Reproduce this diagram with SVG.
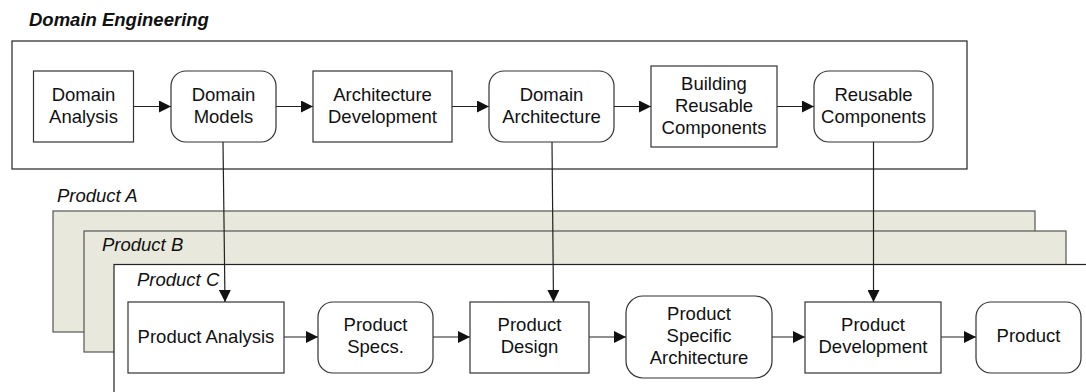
<svg xmlns="http://www.w3.org/2000/svg" width="1086" height="392" viewBox="0 0 1086 392">
  <style>
    text { font-family: "Liberation Sans", Arial, sans-serif; font-size: 18.5px; fill: #111; }
    .lbl { text-anchor: middle; }
    .title { font-weight: bold; font-style: italic; }
    .ptitle { font-style: italic; }
    .box { fill: #fff; stroke: #333; stroke-width: 1.2; }
    .panel { fill: #e8e8dc; stroke: #555; stroke-width: 1.2; }
    .frame { fill: #fff; stroke: #222; stroke-width: 1.2; }
    .conn { fill: none; stroke: #222; stroke-width: 1.2; marker-end: url(#arrow); }
  </style>
  <defs>
    <marker id="arrow" markerUnits="userSpaceOnUse" markerWidth="12" markerHeight="12" refX="12" refY="6" orient="auto">
      <path d="M0,0 L12,6 L0,12 z" fill="#111"/>
    </marker>
  </defs>

  <!-- Domain engineering frame -->
  <g id="domain-engineering">
    <text class="title" x="29" y="25.5">Domain Engineering</text>
    <rect class="frame" x="12" y="41" width="955" height="128"/>
  </g>

  <!-- Stacked product frames -->
  <g id="product-a">
    <rect class="panel" x="53" y="211" width="982" height="121"/>
    <text class="ptitle" x="57" y="201.5">Product A</text>
  </g>
  <g id="product-b">
    <rect class="panel" x="84" y="231" width="982" height="121"/>
    <text class="ptitle" x="102" y="251">Product B</text>
  </g>
  <g id="product-c">
    <rect class="frame" x="114" y="264.5" width="990" height="140"/>
    <text class="ptitle" x="137" y="285.5">Product C</text>
  </g>

  <!-- Connectors -->
  <g id="connectors">
    <line class="conn" x1="134" y1="106.5" x2="171" y2="106.5"/>
    <line class="conn" x1="276" y1="106.5" x2="313" y2="106.5"/>
    <line class="conn" x1="452" y1="106.5" x2="489" y2="106.5"/>
    <line class="conn" x1="614" y1="106.5" x2="651" y2="106.5"/>
    <line class="conn" x1="777" y1="106.5" x2="814" y2="106.5"/>

    <line class="conn" x1="223" y1="142" x2="225" y2="302"/>
    <line class="conn" x1="552" y1="142" x2="553.5" y2="302"/>
    <line class="conn" x1="873.5" y1="142" x2="873.5" y2="302"/>

    <line class="conn" x1="284" y1="337" x2="318" y2="337"/>
    <line class="conn" x1="433" y1="337" x2="470" y2="337"/>
    <line class="conn" x1="589" y1="337" x2="626" y2="337"/>
    <line class="conn" x1="772" y1="337" x2="805" y2="337"/>
    <line class="conn" x1="941" y1="337" x2="976" y2="337"/>
  </g>

  <!-- Domain engineering nodes -->
  <g id="domain-analysis">
    <rect class="box" x="33.5" y="71" width="100" height="71"/>
    <text class="lbl" x="83.5" y="101">Domain</text>
    <text class="lbl" x="83.5" y="123">Analysis</text>
  </g>
  <g id="domain-models">
    <rect class="box" x="171" y="71" width="105" height="71" rx="15"/>
    <text class="lbl" x="223.5" y="101">Domain</text>
    <text class="lbl" x="223.5" y="123">Models</text>
  </g>
  <g id="architecture-development">
    <rect class="box" x="313" y="71" width="139" height="71"/>
    <text class="lbl" x="382.5" y="101">Architecture</text>
    <text class="lbl" x="382.5" y="123">Development</text>
  </g>
  <g id="domain-architecture">
    <rect class="box" x="489" y="71" width="125" height="71" rx="15"/>
    <text class="lbl" x="551.5" y="101">Domain</text>
    <text class="lbl" x="551.5" y="123">Architecture</text>
  </g>
  <g id="building-reusable-components">
    <rect class="box" x="651" y="66" width="126" height="81"/>
    <text class="lbl" x="714" y="90">Building</text>
    <text class="lbl" x="714" y="112">Reusable</text>
    <text class="lbl" x="714" y="134">Components</text>
  </g>
  <g id="reusable-components">
    <rect class="box" x="814" y="71" width="119" height="71" rx="15"/>
    <text class="lbl" x="873.5" y="101">Reusable</text>
    <text class="lbl" x="873.5" y="123">Components</text>
  </g>

  <!-- Product nodes -->
  <g id="product-analysis">
    <rect class="box" x="128" y="302" width="156" height="71"/>
    <text class="lbl" x="206" y="342.5">Product Analysis</text>
  </g>
  <g id="product-specs">
    <rect class="box" x="318" y="302" width="115" height="71" rx="15"/>
    <text class="lbl" x="375.5" y="331">Product</text>
    <text class="lbl" x="375.5" y="353">Specs.</text>
  </g>
  <g id="product-design">
    <rect class="box" x="470" y="302" width="119" height="71"/>
    <text class="lbl" x="529.5" y="331">Product</text>
    <text class="lbl" x="529.5" y="353">Design</text>
  </g>
  <g id="product-specific-architecture">
    <rect class="box" x="626" y="296" width="146" height="82" rx="17"/>
    <text class="lbl" x="699" y="320">Product</text>
    <text class="lbl" x="699" y="342">Specific</text>
    <text class="lbl" x="699" y="364">Architecture</text>
  </g>
  <g id="product-development">
    <rect class="box" x="805" y="302" width="136" height="71"/>
    <text class="lbl" x="873" y="331">Product</text>
    <text class="lbl" x="873" y="353">Development</text>
  </g>
  <g id="product">
    <rect class="box" x="976" y="302" width="105" height="71" rx="15"/>
    <text class="lbl" x="1028.5" y="342">Product</text>
  </g>
</svg>
